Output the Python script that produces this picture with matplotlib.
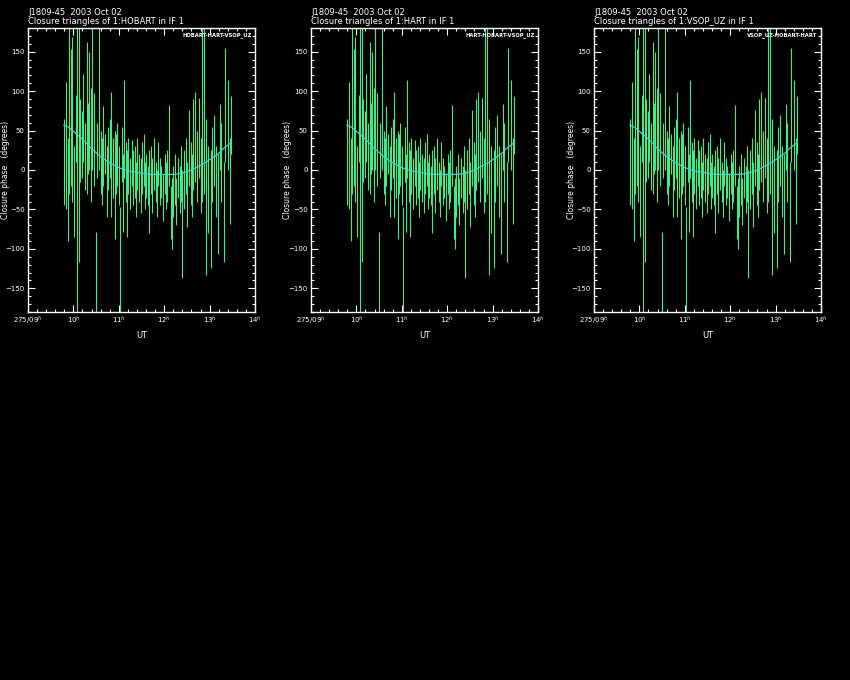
import matplotlib
matplotlib.use('Agg')
import matplotlib.pyplot as plt
from matplotlib.ticker import MultipleLocator, FixedLocator

# closure phase error bars: UT (hours), lower / upper limit (degrees)
ut = [9.80, 9.84, 9.88, 9.91, 9.94, 9.98, 10.02, 10.05, 10.07, 10.12,
      10.15, 10.18, 10.22, 10.25, 10.29, 10.32, 10.35, 10.38, 10.42, 10.46,
      10.50, 10.53, 10.57, 10.60, 10.63, 10.66, 10.70, 10.73, 10.76, 10.80,
      10.83, 10.87, 10.91, 10.94, 10.97, 11.00, 11.03, 11.06, 11.09, 11.12,
      11.15, 11.18, 11.21, 11.25, 11.28, 11.31, 11.35, 11.38, 11.41, 11.45,
      11.48, 11.51, 11.55, 11.58, 11.61, 11.64, 11.67, 11.71, 11.74, 11.77,
      11.81, 11.84, 11.87, 11.91, 11.94, 11.97, 12.01, 12.04, 12.07, 12.10,
      12.14, 12.17, 12.20, 12.24, 12.27, 12.31, 12.34, 12.37, 12.40, 12.44,
      12.47, 12.50, 12.55, 12.58, 12.61, 12.64, 12.68, 12.72, 12.77, 12.80,
      12.84, 12.88, 12.91, 12.93, 12.97, 13.02, 13.05, 13.09, 13.13, 13.18,
      13.22, 13.26, 13.31, 13.35, 13.40, 13.44, 13.47]
lo = [-45, -50, -90, -30, -20, -40, -85, 10, -185, -116,
      -15, -10, 10, -25, -30, -5, 0, -40, 0, -20,
      -185, -10, 0, -30, -45, -20, -5, -60, -25, -10,
      -60, -35, -88, -30, -20, -45, -185, -15, -78, -10,
      -40, -85, -30, -50, -20, -45, -35, -60, -25, -40,
      -55, -30, -20, -50, -35, -45, -80, -30, -55, -25,
      -40, -60, -20, -45, -35, -65, -30, -50, -40, -20,
      -87, -100, -60, -45, -70, -35, -55, -40, -137, -50,
      -30, -72, -20, -45, -60, -25, -15, -40, -10, -55,
      -40, -30, -20, -133, -80, -124, -40, -20, -60, -106,
      0, -40, -117, 10, 0, -68, 20]
hi = [65, 112, 40, 185, 154, 168, 30, 95, 185, 185,
      90, 75, 122, 60, 162, 85, 150, 104, 185, 97,
      -78, 60, 185, 50, 40, 81, 45, 30, 55, 65,
      99, 40, 50, 45, 60, 30, -47, 55, 20, 114,
      35, 25, 40, 15, 38, 25, 30, 10, 40, 20,
      15, 35, 45, 10, 20, 5, 25, 30, 15, 40,
      10, 0, 35, 15, 5, -5, 20, 10, 25, 83,
      -20, -10, 5, 20, -10, 15, 5, 30, 0, 25,
      40, 10, 76, 35, 20, 90, 99, 50, 91, 40,
      185, 185, 65, -10, 30, 25, 55, 70, 30, 20,
      84, 60, 10, 155, 114, 40, 94]

# model closure phase
model_ut = [9.79, 9.9, 10.0, 10.1, 10.2, 10.3, 10.4, 10.5, 10.6, 10.7, 10.8,
            10.9, 11.0, 11.1, 11.2, 11.3, 11.4, 11.5, 11.6, 11.7, 11.8,
            12.0, 12.2, 12.3, 12.4, 12.5, 12.6, 12.7, 12.8, 12.9, 13.0,
            13.1, 13.2, 13.3, 13.46]
model_ph = [57, 54, 49, 44, 39, 33, 27, 22, 17, 13, 9,
            6, 3, 1, -1, -2, -3, -4, -5, -5.5, -5.5,
            -5.5, -5.5, -5, -4, -2, 0, 3, 6, 9, 13,
            17, 21, 27, 34]

sources = ['HOBART', 'HART', 'VSOP_UZ']
triangles = ['HOBART-HART-VSOP_UZ', 'HART-HOBART-VSOP_UZ', 'VSOP_UZ-HOBART-HART']
lefts = [28, 311, 594]

xticks = [9, 10, 11, 12, 13, 14]
xlabels = ['275/09$^h$', '10$^h$', '11$^h$', '12$^h$', '13$^h$', '14$^h$']

bar_col = '#3fec85'
model_col = '#40dccc'

fig = plt.figure(figsize=(8.5, 6.8), dpi=100, facecolor='black')

for src, tri, left in zip(sources, triangles, lefts):
    ax = fig.add_axes([left / 850, 1 - 312 / 680, 227 / 850, 284 / 680])
    ax.set_facecolor('black')
    ax.vlines(ut, lo, hi, color=bar_col, lw=0.8, snap=True)
    ax.plot(model_ut, model_ph, color=model_col, lw=0.9, zorder=3)
    ax.set_xlim(9, 14)
    ax.set_ylim(-180, 180)
    ax.xaxis.set_major_locator(FixedLocator(xticks))
    ax.set_xticklabels(xlabels)
    ax.xaxis.set_minor_locator(MultipleLocator(0.2))
    ax.yaxis.set_major_locator(MultipleLocator(50))
    ax.yaxis.set_minor_locator(MultipleLocator(10))
    ax.tick_params(which='both', direction='in', colors='white',
                   top=True, right=True, labelsize=5, width=0.8)
    ax.tick_params(which='major', length=5)
    ax.tick_params(which='minor', length=2.5)
    ax.tick_params(axis='x', pad=2, labelsize=5)
    ax.tick_params(axis='y', pad=2.5)
    for sp in ax.spines.values():
        sp.set_color('white')
        sp.set_linewidth(1)
    ax.set_xlabel('UT', color='white', fontsize=6, labelpad=3)
    ax.set_ylabel('Closure phase   (degrees)', color='white', fontsize=5.5)
    ax.yaxis.set_label_coords(-18.5 / 227, 0.5)
    ax.text(0.0, 1.038, 'J1809-45  2003 Oct 02', transform=ax.transAxes,
            color='white', fontsize=6, ha='left', va='bottom')
    ax.text(0.0, 1.006, 'Closure triangles of 1:%s in IF 1' % src,
            transform=ax.transAxes, color='white', fontsize=6,
            ha='left', va='bottom')
    ax.text(0.985, 0.985, tri, transform=ax.transAxes, color='white',
            fontsize=3.8, ha='right', va='top', fontweight='bold')

fig.savefig('out.png', dpi=100, facecolor='black')
